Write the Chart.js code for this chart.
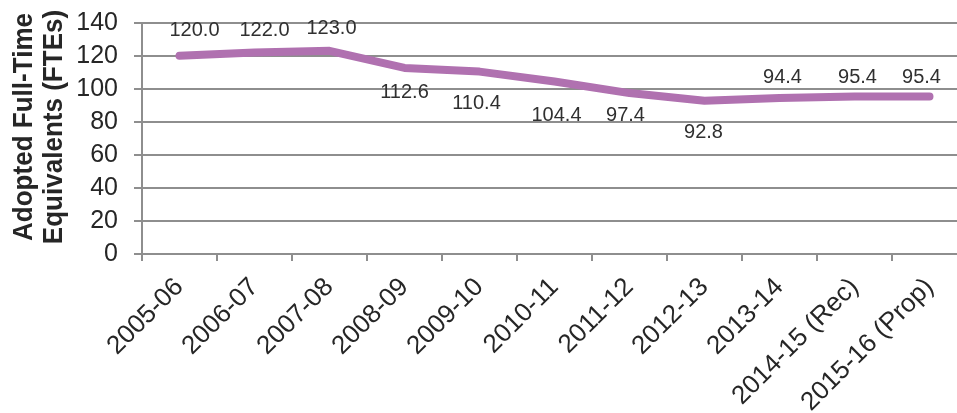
<!DOCTYPE html>
<html>
<head>
<meta charset="utf-8">
<script src="https://cdn.jsdelivr.net/npm/chart.js@4.4.1/dist/chart.umd.min.js"></script>
<style>
  html, body { margin: 0; padding: 0; background: #ffffff; overflow: hidden; }
  #wrap { position: relative; width: 970px; height: 413px; }
</style>
</head>
<body>
<div id="wrap"><canvas id="fte"></canvas></div>
<script>
// Fiscal years shown along the bottom axis
const fiscalYears = ['2005-06', '2006-07', '2007-08', '2008-09', '2009-10', '2010-11',
                     '2011-12', '2012-13', '2013-14', '2014-15 (Rec)', '2015-16 (Prop)'];
// Adopted full-time equivalents per year
const adoptedFTEs = [120.0, 122.0, 123.0, 112.6, 110.4, 104.4, 97.4, 92.8, 94.4, 95.4, 95.4];
// Value axis range and step
const yTicks = { min: 0, max: 140, step: 20 };
const yTitleLines = ['Adopted Full-Time', 'Equivalents (FTEs)'];

// Placement of each value label relative to its point (pixels)
const labelDx = [15, 10, 2, 0, -3, 2, -4, -1, 3, 3, -8];
const labelDy = [-25, -22, -22, 25, 32, 34, 22, 32, -21, -19, -19];

const gridGray = '#8e8e8e';
const textColor = '#262626';
const lineColor = '#b071b0';
const fontFamily = '"Liberation Sans", Arial, sans-serif';

const valueLabels = {
  id: 'valueLabels',
  afterDatasetsDraw(chart) {
    const { ctx } = chart;
    const meta = chart.getDatasetMeta(0);
    ctx.save();
    ctx.font = '20px ' + fontFamily;
    ctx.fillStyle = '#303030';
    ctx.textAlign = 'center';
    ctx.textBaseline = 'middle';
    meta.data.forEach((pt, i) => {
      const v = chart.data.datasets[0].data[i];
      ctx.fillText(v.toFixed(1), pt.x + labelDx[i], pt.y + labelDy[i]);
    });
    ctx.restore();
  }
};

const axisTitle = {
  id: 'axisTitle',
  afterDraw(chart) {
    const { ctx } = chart;
    const cy = 127;
    ctx.save();
    ctx.font = 'bold 28px ' + fontFamily;
    ctx.fillStyle = textColor;
    ctx.textAlign = 'center';
    ctx.textBaseline = 'alphabetic';
    const baselines = [32, 62];
    yTitleLines.forEach((t, i) => {
      ctx.save();
      ctx.translate(baselines[i], cy);
      ctx.rotate(-Math.PI / 2);
      ctx.scale(0.93, 1);
      ctx.fillText(t, 0, 0);
      ctx.restore();
    });
    ctx.restore();
  }
};

new Chart(document.getElementById('fte'), {
  type: 'line',
  data: {
    labels: fiscalYears,
    datasets: [{
      data: adoptedFTEs,
      borderColor: lineColor,
      borderWidth: 8,
      borderCapStyle: 'round',
      borderJoinStyle: 'round',
      pointRadius: 0,
      tension: 0,
      fill: false
    }]
  },
  options: {
    responsive: true,
    maintainAspectRatio: false,
    animation: false,
    layout: { padding: { top: 22.7, right: 3, left: 0, bottom: 0 } },
    plugins: { legend: { display: false }, tooltip: { enabled: false } },
    scales: {
      x: {
        offset: true,
        grid: { offset: true, drawOnChartArea: false, drawTicks: true, tickLength: 7, color: gridGray, lineWidth: 2 },
        border: { display: true, color: gridGray, width: 2 },
        ticks: {
          color: textColor,
          font: { family: fontFamily, size: 26 },
          maxRotation: 45, minRotation: 45,
          autoSkip: false,
          padding: 11
        },
        afterFit(scale) {
          scale.height = 159;
          scale.paddingLeft = 0;
          scale.paddingRight = 0;
        }
      },
      y: {
        min: yTicks.min, max: yTicks.max,
        ticks: {
          stepSize: yTicks.step,
          autoSkip: false,
          color: textColor,
          font: { family: fontFamily, size: 25 },
          padding: 16
        },
        grid: { color: gridGray, lineWidth: 2, tickLength: 8 },
        border: { display: true, color: gridGray, width: 2 },
        afterFit(scale) {
          scale.width = 142;
          scale.paddingTop = 0;
          scale.paddingBottom = 0;
        }
      }
    }
  },
  plugins: [valueLabels, axisTitle]
});
</script>
</body>
</html>
